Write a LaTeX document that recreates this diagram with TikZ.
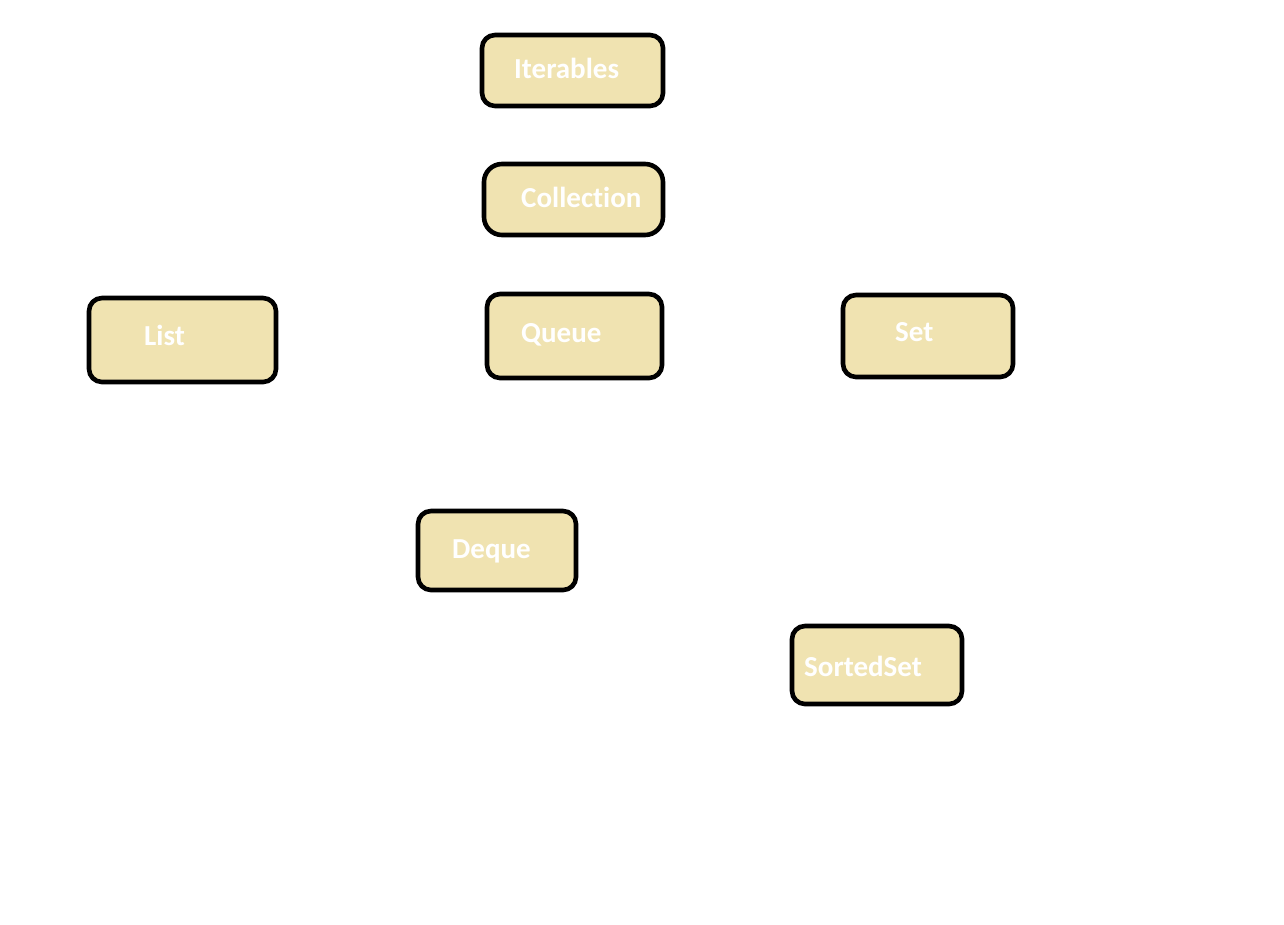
\documentclass[tikz,border=0pt]{standalone}
\usepackage{fontspec}
\setmainfont[Ligatures={NoCommon}]{Carlito}
\begin{document}
\begin{tikzpicture}[x=1pt,y=-1pt,
  box/.style={draw=black,line width=4.6pt,fill=boxfill,rounded corners=13pt},
  lbl/.style={anchor=base west,inner sep=0pt,text=white,font=\bfseries\fontsize{29}{34}\selectfont}]
\definecolor{boxfill}{HTML}{F0E3B1}
\useasboundingbox (0,0) rectangle (1284,924);
% interface boxes
\draw[box] (482,35) rectangle (663,106);
\draw[box,rounded corners=18pt] (484,164) rectangle (663,235);
\draw[box] (89,298) rectangle (276,382);
\draw[box] (487,294) rectangle (662,378);
\draw[box] (843,295) rectangle (1013,377);
\draw[box] (418,511) rectangle (576,590);
\draw[box] (792,626) rectangle (962,704);
% names, placed on their baselines
\node[lbl] (tIterables) at (514,78) {Iterables};
\node[lbl] (tCollection) at (521,207) {Collection};
\node[lbl] (tList) at (144,345) {List};
\node[lbl] (tQueue) at (521,342) {Queue};
\node[lbl] (tSet) at (895,341) {Set};
\node[lbl] (tDeque) at (452,558) {Deque};
\node[lbl] (tSortedSet) at (804,676) {SortedSet};
\end{tikzpicture}
\end{document}
